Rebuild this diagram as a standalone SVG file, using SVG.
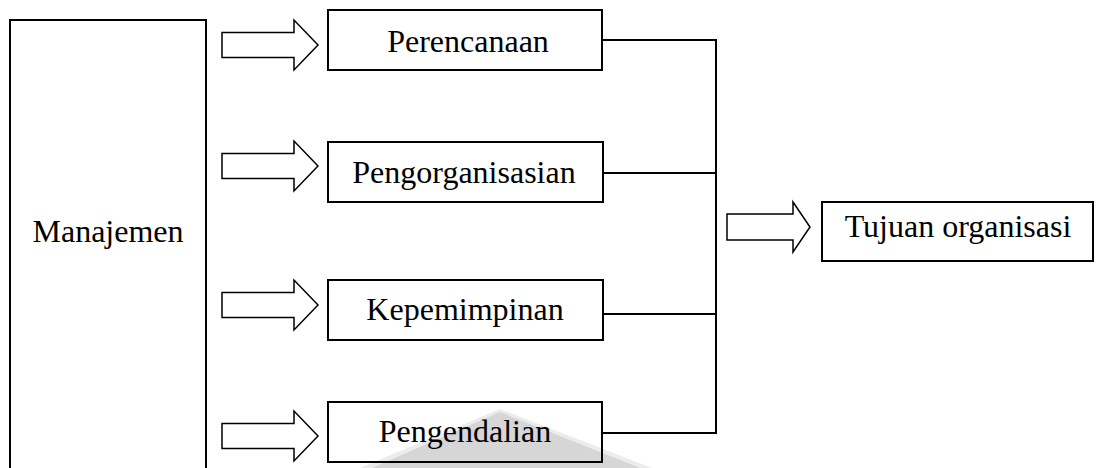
<svg xmlns="http://www.w3.org/2000/svg" width="1099" height="468" viewBox="0 0 1099 468">
  <style>
    .box { fill: none; stroke: #000; stroke-width: 2; }
    .arrow { fill: #fff; stroke: #000; stroke-width: 1.5; stroke-linejoin: miter; }
    .wire { fill: none; stroke: #000; stroke-width: 2; }
    .label { font-family: "Liberation Serif", "Times New Roman", serif; font-size: 32px; fill: #000; text-anchor: middle; }
  </style>
  <defs>
    <!-- block arrow, origin at the shaft's left end, pointing right -->
    <polygon id="blockArrow" points="0,-12.5 72,-12.5 72,-25 96,0 72,25 72,12.5 0,12.5"/>
  </defs>
  <rect width="1099" height="468" fill="#fff"/>

  <!-- faint grey shape near the bottom -->
  <g id="backdrop">
    <polygon points="360,468 500,409 652,468" fill="#ececec"/>
    <polygon points="372,468 500,412 640,468" fill="#d6d6d6"/>
  </g>

  <g id="manajemen">
    <polyline class="box" points="10,470 10,20 206,20 206,470"/>
    <text class="label" x="108" y="242">Manajemen</text>
  </g>

  <g id="arrows">
    <use href="#blockArrow" class="arrow" x="222" y="45"/>
    <use href="#blockArrow" class="arrow" x="222" y="166"/>
    <use href="#blockArrow" class="arrow" x="222" y="305"/>
    <use href="#blockArrow" class="arrow" x="222" y="436"/>
    <polygon class="arrow" points="727,214 793,214 793,202 810,227 793,252 793,240 727,240"/>
  </g>

  <g id="perencanaan">
    <rect class="box" x="328" y="10" width="274" height="60"/>
    <text class="label" x="468" y="52">Perencanaan</text>
  </g>
  <g id="pengorganisasian">
    <rect class="box" x="328" y="142" width="275" height="60"/>
    <text class="label" x="464" y="183">Pengorganisasian</text>
  </g>
  <g id="kepemimpinan">
    <rect class="box" x="328" y="280" width="275" height="60"/>
    <text class="label" x="465" y="320">Kepemimpinan</text>
  </g>
  <g id="pengendalian">
    <rect class="box" x="328" y="402" width="274" height="60"/>
    <text class="label" x="465" y="442">Pengendalian</text>
  </g>
  <g id="tujuan">
    <rect class="box" x="822" y="202" width="271" height="59"/>
    <text class="label" x="958" y="237">Tujuan organisasi</text>
  </g>

  <g id="connectors">
    <polyline class="wire" points="602,40 716,40 716,433 602,433"/>
    <line class="wire" x1="603" y1="173" x2="716" y2="173"/>
    <line class="wire" x1="603" y1="314" x2="716" y2="314"/>
  </g>
</svg>
